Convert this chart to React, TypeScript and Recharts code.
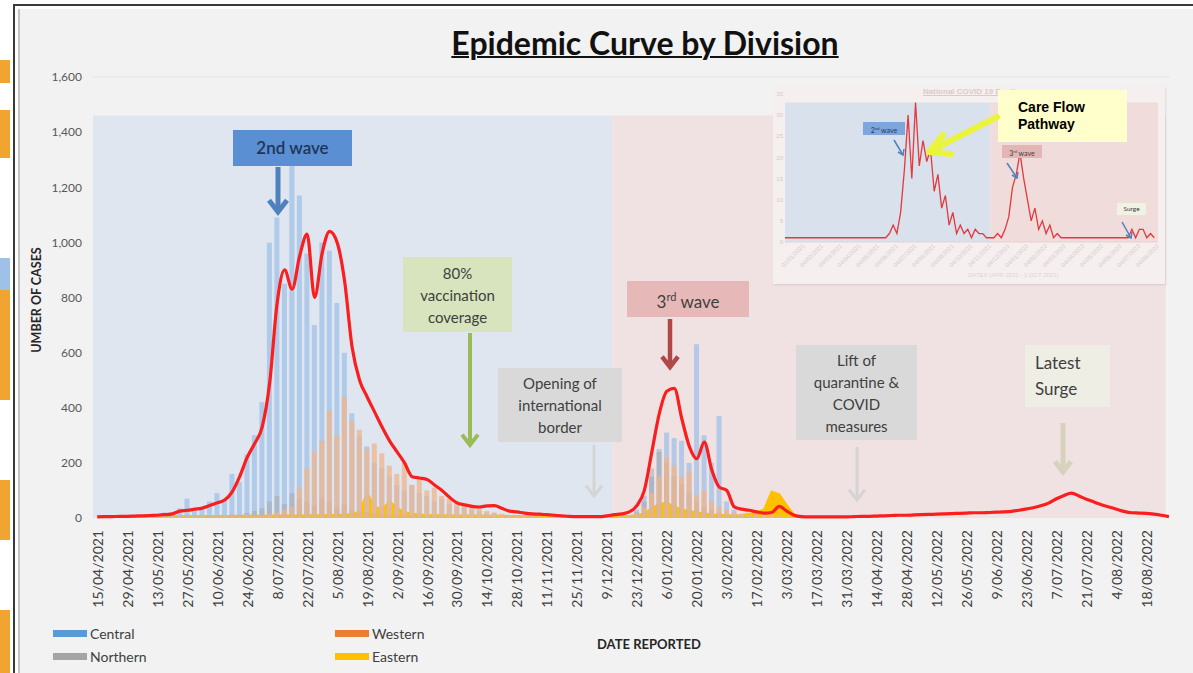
import React from 'react';
import {
  Area,
  Bar,
  ComposedChart,
  Line,
  LineChart,
  ReferenceArea,
  ReferenceLine,
  XAxis,
  YAxis,
} from 'recharts';

// x labels, one every 14 days from 15/04/2021
const dateTicks = [
  '15/04/2021', '29/04/2021', '13/05/2021', '27/05/2021', '10/06/2021', '24/06/2021',
  '8/07/2021', '22/07/2021', '5/08/2021', '19/08/2021', '2/09/2021', '16/09/2021',
  '30/09/2021', '14/10/2021', '28/10/2021', '11/11/2021', '25/11/2021', '9/12/2021',
  '23/12/2021', '6/01/2022', '20/01/2022', '3/02/2022', '17/02/2022', '3/03/2022',
  '17/03/2022', '31/03/2022', '14/04/2022', '28/04/2022', '12/05/2022', '26/05/2022',
  '9/06/2022', '23/06/2022', '7/07/2022', '21/07/2022', '4/08/2022', '18/08/2022',
];

// cases per division, one value every 3.5 days from 15/04/2021
const central = [
  0, 0, 2, 0, 3, 5, 10, 8, 15, 20,
  12, 35, 70, 25, 40, 60, 90, 70, 160, 130,
  230, 300, 420, 1000, 1090, 850, 1280, 1170, 960, 700,
  1000, 970, 780, 600, 380, 300, 260, 200, 180, 150,
  120, 100, 120, 90, 80, 60, 70, 50, 40, 45,
  30, 25, 20, 18, 12, 10, 8, 6, 8, 5,
  4, 5, 3, 4, 2, 3, 2, 2, 3, 4,
  6, 10, 30, 80, 150, 250, 310, 290, 280, 200,
  630, 300, 200, 370, 60, 30, 15, 10, 8, 6,
  5, 4, 3, 2, 1, 0, 0, 0, 0, 0,
  0, 0, 0, 0, 0, 0, 0, 0, 0, 0,
  0, 0, 0, 0, 0, 0, 0, 0, 0, 0,
  0, 0, 0, 0, 0, 0, 0, 0, 0, 0,
  0, 0, 0, 0, 0, 0, 0, 0, 0, 0,
  0, 0, 0, 0,
];

const western = [
  0, 0, 0, 0, 0, 0, 2, 0, 3, 2,
  4, 3, 5, 4, 6, 5, 8, 6, 10, 8,
  12, 10, 10, 15, 20, 30, 40, 110, 180, 240,
  280, 390, 300, 440, 350, 320, 250, 270, 235, 190,
  160, 200, 120, 140, 100, 110, 80, 70, 60, 50,
  40, 35, 25, 20, 15, 10, 8, 6, 5, 5,
  4, 4, 3, 3, 2, 3, 2, 2, 3, 4,
  5, 8, 15, 40, 90, 150, 220, 190, 150, 170,
  80, 100, 60, 40, 30, 20, 15, 10, 20, 25,
  15, 10, 5, 3, 2, 0, 0, 0, 0, 0,
  0, 0, 0, 0, 0, 0, 0, 0, 0, 0,
  0, 0, 0, 0, 0, 0, 0, 0, 0, 0,
  0, 0, 0, 0, 0, 0, 0, 0, 0, 0,
  0, 0, 0, 0, 0, 0, 0, 0, 0, 0,
  0, 0, 0, 0,
];

const northern = [
  0, 0, 0, 0, 0, 0, 0, 0, 2, 0,
  3, 0, 5, 2, 4, 6, 8, 5, 12, 10,
  18, 25, 35, 60, 80, 50, 90, 70, 60, 45,
  70, 60, 40, 50, 30, 25, 20, 18, 15, 12,
  10, 12, 8, 9, 6, 6, 5, 4, 4, 3,
  3, 2, 2, 2, 1, 1, 1, 1, 1, 1,
  1, 1, 1, 0, 0, 1, 0, 1, 1, 2,
  3, 5, 20, 60, 180, 240, 200, 150, 120, 90,
  60, 40, 30, 20, 15, 10, 6, 4, 3, 2,
  1, 1, 0, 0, 0, 0, 0, 0, 0, 0,
  0, 0, 0, 0, 0, 0, 0, 0, 0, 0,
  0, 0, 0, 0, 0, 0, 0, 0, 0, 0,
  0, 0, 0, 0, 0, 0, 0, 0, 0, 0,
  0, 0, 0, 0, 0, 0, 0, 0, 0, 0,
  0, 0, 0, 0,
];

const eastern = [
  5, 5, 5, 5, 5, 6, 6, 6, 6, 6,
  6, 6, 6, 6, 6, 6, 6, 6, 6, 7,
  7, 7, 7, 8, 8, 8, 8, 8, 9, 9,
  9, 10, 10, 12, 14, 20, 90, 40, 30, 60,
  35, 20, 15, 12, 10, 10, 9, 9, 8, 8,
  8, 8, 7, 7, 7, 6, 6, 6, 6, 6,
  5, 5, 5, 5, 5, 5, 5, 5, 5, 5,
  6, 6, 10, 15, 35, 50, 55, 40, 30, 25,
  20, 15, 12, 10, 10, 8, 10, 15, 20, 30,
  95, 85, 45, 10, 3, null, null, null, null, null,
  null, null, null, null, null, null, null, null, null, null,
  null, null, null, null, null, null, null, null, null, null,
  null, null, null, null, null, null, null, null, null, null,
  null, null, null, null, null, null, null, null, null, null,
  null, null, null, null,
];

// red curve (moving average of all divisions)
const movingAvg = [
  4, 5, 5, 6, 6, 7, 8, 9, 10, 12,
  15, 25, 28, 32, 36, 45, 55, 65, 95, 150,
  220, 270, 330, 490, 780, 900, 830, 950, 1030, 800,
  960, 1040, 1000, 860, 620, 500, 440, 385, 330, 280,
  240, 200, 150, 145, 140, 120, 100, 75, 55, 48,
  42, 40, 44, 45, 35, 25, 22, 18, 15, 14,
  12, 10, 8, 6, 5, 5, 5, 5, 8, 12,
  15, 22, 45, 100, 240, 380, 460, 470, 360, 260,
  215, 275, 174, 112, 100, 40, 32, 28, 22, 18,
  20, 42, 25, 10, 5, 4, 4, 4, 4, 4,
  4, 5, 6, 6, 7, 8, 9, 10, 10, 11,
  12, 13, 14, 15, 16, 17, 18, 19, 19, 20,
  21, 22, 24, 28, 33, 38, 45, 55, 70, 82,
  90, 80, 68, 58, 48, 40, 32, 24, 19, 18,
  17, 14, 10, 5,
];

const yTicks = [0, 200, 400, 600, 800, 1000, 1200, 1400, 1600];

// inset: national deaths picture
const insetDeaths = [
  1, 1, 1, 1, 1, 1, 1, 1, 1, 1,
  1, 1, 1, 1, 1, 1, 1, 1, 1, 1,
  1, 1, 1, 1, 1, 1, 1, 1, 2, 4,
  2, 7, 17, 30, 15, 33, 18, 24, 19, 22,
  12, 16, 8, 11, 4, 7, 2, 4, 2, 3,
  1, 3, 2, 2, 1, 1, 1, 2, 1, 3,
  6, 13, 16, 21, 15, 10, 5, 8, 3, 5,
  2, 4, 1, 2, 1, 1, 1, 1, 1, 1,
  1, 1, 1, 1, 1, 1, 1, 1, 1, 1,
  1, 1, 1, 3, 1, 3, 3, 1, 2, 1,
];
const insetTicks = [
  '01/01/2021', '04/02/2021', '04/03/2021', '04/04/2021', '04/05/2021',
  '04/06/2021', '04/07/2021', '04/08/2021', '04/09/2021', '04/10/2021',
  '04/11/2021', '04/12/2021', '04/01/2022', '04/02/2022', '04/03/2022',
  '04/04/2022', '04/05/2022', '04/06/2022', '04/07/2022', '04/08/2022',
];

const chartData = central.map((c, i) => ({
  day: i * 3.5,
  central: c,
  western: western[i],
  northern: northern[i],
  eastern: eastern[i],
  avg: movingAvg[i],
}));

const insetData = insetDeaths.map((v, k) => ({ k, deaths: v }));
const insetTickPos = insetTicks.map((_, i) => 5 + i * 5);

const FONT = 'Lato, "Open Sans", sans-serif';

function DateTick({ x, y, payload }: any) {
  const label = dateTicks[Math.round(payload.value / 14)];
  return (
    <text
      x={x}
      y={y}
      transform={`rotate(-90, ${x}, ${y})`}
      textAnchor="end"
      dominantBaseline="central"
      fontSize={14}
      fontFamily={FONT}
      fill="#404040"
    >
      {label}
    </text>
  );
}

function InsetTick({ x, y, payload }: any) {
  const idx = insetTickPos.indexOf(payload.value);
  return (
    <text
      x={x}
      y={y}
      transform={`rotate(-45, ${x}, ${y})`}
      textAnchor="end"
      dominantBaseline="central"
      fontSize={6}
      fontFamily="Liberation Sans"
      fill="#d8caca"
    >
      {insetTicks[idx]}
    </text>
  );
}

function Note({ left, top, width, height, bg, size = 15, color = '#404040', align = 'center', children }: any) {
  return (
    <div
      style={{
        position: 'absolute', left, top, width, height, background: bg, color,
        fontSize: size, lineHeight: '22px', fontFamily: FONT,
        display: 'flex', flexDirection: 'column', justifyContent: 'center',
        alignItems: align === 'center' ? 'center' : 'flex-start',
        textAlign: align, paddingLeft: align === 'center' ? 0 : 10, boxSizing: 'border-box',
      }}
    >
      {children}
    </div>
  );
}

function DownArrow({ x, y1, y2, color, w, head }: any) {
  return (
    <g stroke={color} strokeWidth={w} fill="none">
      <line x1={x} y1={y1} x2={x} y2={y2 - 2} />
      <polyline points={`${x - head},${y2 - head * 1.3} ${x},${y2} ${x + head},${y2 - head * 1.3}`} strokeLinejoin="miter" />
    </g>
  );
}

function Legend() {
  const items = [
    { name: 'Central', color: '#5b9bd5', left: 53, top: 624 },
    { name: 'Northern', color: '#a5a5a5', left: 53, top: 647 },
    { name: 'Western', color: '#ed7d31', left: 335, top: 624 },
    { name: 'Eastern', color: '#ffc000', left: 335, top: 647 },
  ];
  return (
    <>
      {items.map((it) => (
        <div key={it.name} style={{ position: 'absolute', left: it.left, top: it.top, display: 'flex', alignItems: 'center', fontFamily: FONT, fontSize: 14, color: '#404040', height: 18 }}>
          <span style={{ display: 'inline-block', width: 34, height: 7, background: it.color, marginRight: 3 }} />
          {it.name}
        </div>
      ))}
      <div style={{ position: 'absolute', left: 597, top: 636, fontFamily: FONT, fontSize: 13, fontWeight: 700, color: '#262626' }}>
        DATE REPORTED
      </div>
    </>
  );
}

function Inset() {
  return (
    <div style={{ position: 'absolute', left: 773, top: 86, width: 392, height: 198, background: '#f5efef', boxShadow: '1px 1px 2px rgba(0,0,0,0.10)' }}>
      <LineChart width={392} height={198} data={insetData} margin={{ top: 8, right: 7, bottom: 0, left: 0 }}>
        <ReferenceArea x1={0} x2={55} y1={0} y2={33} fill="#d9e1ec" fillOpacity={1} stroke="none" />
        <ReferenceArea x1={55} x2={100} y1={0} y2={33} fill="#f1dcdc" fillOpacity={1} stroke="none" />
        <XAxis
          dataKey="k"
          type="number"
          domain={[0, 100]}
          ticks={insetTickPos}
          interval={0}
          height={42}
          tick={<InsetTick />}
          tickLine={false}
          tickSize={0}
          tickMargin={3}
          axisLine={{ stroke: '#e4d2d2' }}
        />
        <YAxis
          domain={[0, 35]}
          ticks={[0, 5, 10, 15, 20, 25, 30, 35]}
          width={12}
          tick={{ fontSize: 6, fill: '#d6c8c8', fontFamily: 'Liberation Sans' }}
          axisLine={false}
          tickLine={false}
          tickSize={0}
          tickMargin={2}
        />
        <Line dataKey="deaths" type="linear" stroke="#e3383c" strokeWidth={1.3} dot={false} isAnimationActive={false} />
      </LineChart>
      <div style={{ position: 'absolute', left: 150, top: 1, fontSize: 8, color: '#dccaca', textDecoration: 'underline', fontFamily: 'Liberation Sans', fontWeight: 700 }}>
        National COVID 19 Deaths
      </div>
      <div style={{ position: 'absolute', left: 195, top: 186, fontSize: 6, color: '#e2d4d4', fontFamily: 'Liberation Sans' }}>
        DATES (APR 2021 - 1 OCT 2021)
      </div>
      <div style={{ position: 'absolute', left: 90, top: 36, width: 42, height: 13, background: '#7ea6dc', fontSize: 7, lineHeight: '13px', textAlign: 'center', color: '#203864', fontFamily: FONT }}>
        2<sup style={{ fontSize: 4 }}>nd</sup> wave
      </div>
      <div style={{ position: 'absolute', left: 229, top: 59, width: 40, height: 13, background: '#e3b6b6', fontSize: 7, lineHeight: '13px', textAlign: 'center', color: '#404040', fontFamily: FONT }}>
        3<sup style={{ fontSize: 4 }}>rd</sup> wave
      </div>
      <div style={{ position: 'absolute', left: 344, top: 117, width: 29, height: 12, background: '#f1f1e4', fontSize: 6.5, lineHeight: '12px', textAlign: 'center', color: '#404040', fontFamily: FONT }}>
        Surge
      </div>
      <svg width={392} height={198} style={{ position: 'absolute', left: 0, top: 0, pointerEvents: 'none' }}>
        <g stroke="#4f81bd" strokeWidth={1.5} fill="none">
          <line x1={121} y1={54} x2={130} y2={69} />
          <polyline points="125,66 130,69 131,63" />
          <line x1={234} y1={77} x2={244} y2={92} />
          <polyline points="239,89 244,92 245,86" />
          <line x1={349} y1={136} x2={358} y2={152} />
          <polyline points="353,149 358,152 359,146" />
        </g>
      </svg>
    </div>
  );
}

export default function App() {
  return (
    <div style={{ position: 'fixed', left: 0, top: 0, width: 1193, height: 673, background: '#ffffff', overflow: 'hidden', fontFamily: FONT }}>
      {/* bits of the window behind the screenshot */}
      <div style={{ position: 'absolute', left: 0, top: 60, width: 10, height: 23, background: '#f0a531' }} />
      <div style={{ position: 'absolute', left: 0, top: 110, width: 10, height: 48, background: '#f0a531' }} />
      <div style={{ position: 'absolute', left: 0, top: 258, width: 10, height: 32, background: '#9ec1e8' }} />
      <div style={{ position: 'absolute', left: 0, top: 290, width: 10, height: 110, background: '#f0a531' }} />
      <div style={{ position: 'absolute', left: 0, top: 480, width: 10, height: 60, background: '#f0a531' }} />
      <div style={{ position: 'absolute', left: 0, top: 610, width: 10, height: 63, background: '#f0a531' }} />

      {/* slide frame */}
      <div style={{ position: 'absolute', left: 13, top: 4, right: 0, bottom: 0, borderLeft: '2px solid #3a3a3a', borderTop: '2px solid #3a3a3a', background: '#ffffff' }} />
      <div style={{ position: 'absolute', left: 18, top: 9, right: 0, bottom: 0, borderLeft: '2px solid #c4c4c4', background: '#f2f2f2' }} />

      <div style={{ position: 'absolute', left: 425, top: 24, width: 440, textAlign: 'center', fontFamily: FONT, fontWeight: 700, fontSize: 32, lineHeight: '38px', color: '#111111', textDecoration: 'underline', textDecorationThickness: 2 }}>
        Epidemic Curve by Division
      </div>

      <div style={{ position: 'absolute', left: 0, top: 0 }}>
        <ComposedChart
          width={1193}
          height={673}
          data={chartData}
          margin={{ top: 77, right: 23, bottom: 0, left: 0 }}
          barGap={-5}
        >
          <ReferenceArea x1={-2} x2={240.5} y1={0} y2={1460} fill="#dfe6f0" fillOpacity={1} stroke="none" />
          <ReferenceArea x1={240.5} x2={499} y1={0} y2={1460} fill="#f0e2e2" fillOpacity={1} stroke="none" />
          <ReferenceLine y={1600} stroke="#e4e4e4" />
          <XAxis
            dataKey="day"
            type="number"
            domain={[-2, 501]}
            ticks={dateTicks.map((_, i) => i * 14)}
            interval={0}
            height={155}
            tick={<DateTick />}
            tickLine={false}
            tickSize={0}
            tickMargin={12}
            axisLine={false}
          />
          <YAxis
            domain={[0, 1600]}
            ticks={yTicks}
            width={93}
            tickFormatter={(v: number) => v.toLocaleString('en-US')}
            tick={{ fontSize: 12, fill: '#595959', fontFamily: FONT }}
            axisLine={false}
            tickLine={false}
            tickSize={0}
            tickMargin={11}
          />
          <Bar dataKey="central" barSize={5} fill="#a4c3e8" fillOpacity={0.8} isAnimationActive={false} />
          <Bar dataKey="northern" barSize={5} fill="#a6a6a6" fillOpacity={0.5} isAnimationActive={false} />
          <Bar dataKey="western" barSize={5} fill="#f0b489" fillOpacity={0.75} isAnimationActive={false} />
          <Area dataKey="eastern" type="linear" stroke="#ffc000" strokeWidth={2.5} fill="#ffc000" fillOpacity={1} dot={false} activeDot={false} isAnimationActive={false} />
          <Line dataKey="avg" type="monotone" stroke="#fa1e1e" strokeWidth={3.2} dot={false} activeDot={false} isAnimationActive={false} />
        </ComposedChart>
      </div>

      <div style={{ position: 'absolute', left: 36, top: 300, transform: 'translate(-50%, -50%) rotate(-90deg)', whiteSpace: 'nowrap', fontFamily: FONT, fontWeight: 700, fontSize: 12.5, color: '#262626' }}>
        UMBER OF CASES
      </div>

      <Inset />

      {/* annotations */}
      <Note left={233} top={130} width={119} height={36} bg="#5b8fd4" size={17} color="#1f3556">
        <span style={{ fontWeight: 600 }}>2nd wave</span>
      </Note>
      <Note left={403} top={257} width={109} height={75} bg="#d7e4bd">
        <span>80%</span>
        <span>vaccination</span>
        <span>coverage</span>
      </Note>
      <Note left={498} top={368} width={124} height={74} bg="#d9d9d9">
        <span>Opening of</span>
        <span>international</span>
        <span>border</span>
      </Note>
      <Note left={627} top={281} width={122} height={36} bg="#e6b9b8" size={17}>
        <span>3<sup style={{ fontSize: 11 }}>rd</sup> wave</span>
      </Note>
      <Note left={796} top={345} width={121} height={95} bg="#d9d9d9">
        <span>Lift of</span>
        <span>quarantine &amp;</span>
        <span>COVID</span>
        <span>measures</span>
      </Note>
      <Note left={1025} top={345} width={85} height={62} bg="#eeeee4" size={17} align="left">
        <span style={{ lineHeight: '26px' }}>Latest</span>
        <span style={{ lineHeight: '26px' }}>Surge</span>
      </Note>
      <div style={{ position: 'absolute', left: 998, top: 90, width: 129, height: 52, background: '#ffffcc', fontFamily: '"Liberation Sans", Arial, sans-serif', fontWeight: 700, fontSize: 14, lineHeight: '17px', color: '#000000', paddingLeft: 20, paddingTop: 9, boxSizing: 'border-box' }}>
        Care Flow<br />Pathway
      </div>

      <svg width={1193} height={673} style={{ position: 'absolute', left: 0, top: 0, pointerEvents: 'none' }}>
        <DownArrow x={278} y1={167} y2={212} color="#4f81bd" w={5} head={9} />
        <DownArrow x={470} y1={333} y2={445} color="#9bbb59" w={4} head={8} />
        <DownArrow x={594} y1={445} y2={496} color="#d4d4d4" w={3} head={8} />
        <DownArrow x={670} y1={319} y2={367} color="#b04848" w={4.5} head={8} />
        <DownArrow x={857} y1={447} y2={500} color="#d4d4d4" w={3} head={8} />
        <DownArrow x={1063} y1={423} y2={472} color="#d6d2bc" w={5} head={8} />
        <g stroke="#eaf43c" strokeWidth={6} fill="none" strokeLinecap="round" strokeLinejoin="round">
          <line x1={997} y1={117} x2={932} y2={150} />
          <polyline points="943,135 929,152 951,154" />
        </g>
      </svg>

      <Legend />
    </div>
  );
}
